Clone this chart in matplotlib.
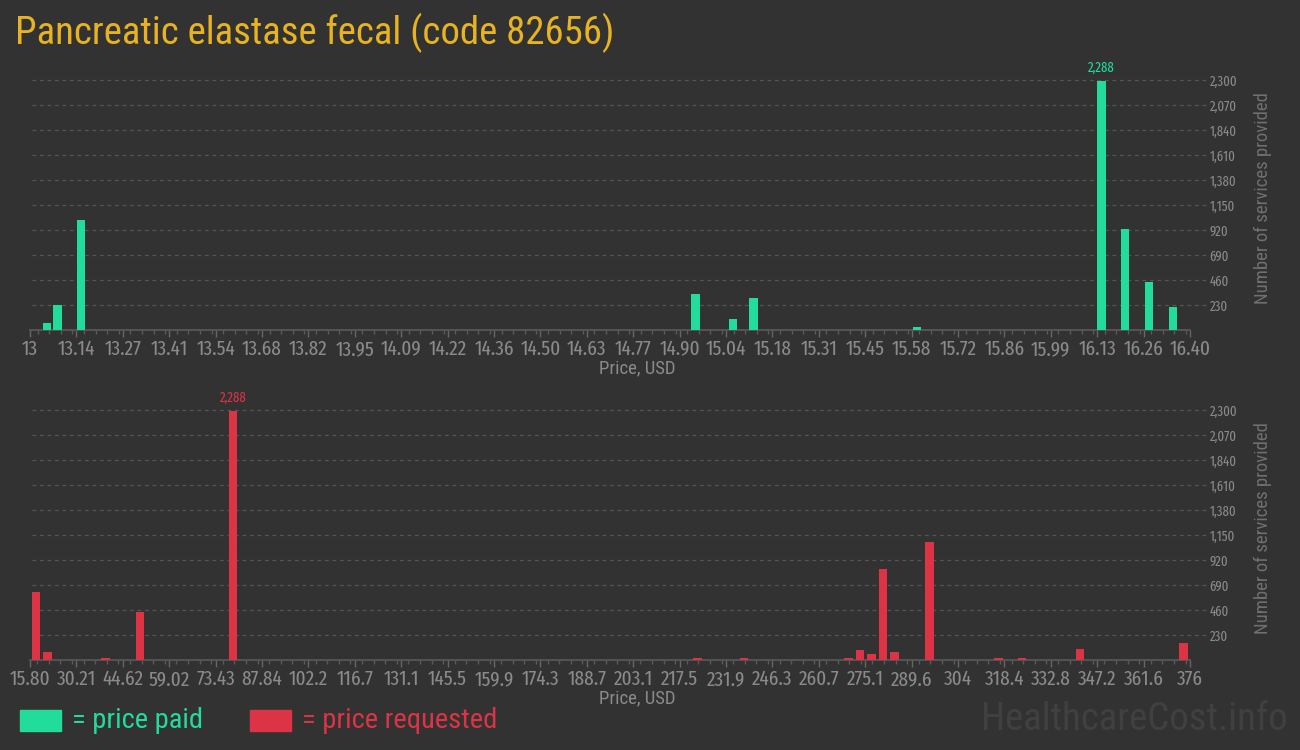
import numpy as np
import matplotlib
matplotlib.use('Agg')
from matplotlib import pyplot as plt
from matplotlib import font_manager
from matplotlib.ticker import FixedLocator, MultipleLocator
from matplotlib.patches import Rectangle

#####

paid_price = [13.05, 13.08, 13.15, 14.95, 15.06, 15.12, 15.60, 16.14, 16.21, 16.28, 16.35]
paid_count = [65, 230, 1012, 331, 100, 294, 28, 2288, 925, 444, 212]

req_price = [17.6, 21.2, 39.2, 50.0, 78.8, 223.1, 237.5, 269.9, 273.5, 277.1,
             280.7, 284.3, 295.1, 316.6, 323.8, 341.8, 374.0]
req_count = [626, 74, 15, 442, 2288, 15, 15, 15, 92, 55,
             837, 74, 1086, 22, 22, 100, 156]

paid_ticks = ['13', '13.14', '13.27', '13.41', '13.54', '13.68', '13.82', '13.95', '14.09',
              '14.22', '14.36', '14.50', '14.63', '14.77', '14.90', '15.04', '15.18', '15.31',
              '15.45', '15.58', '15.72', '15.86', '15.99', '16.13', '16.26', '16.40']
req_ticks = ['15.80', '30.21', '44.62', '59.02', '73.43', '87.84', '102.2', '116.7', '131.1',
             '145.5', '159.9', '174.3', '188.7', '203.1', '217.5', '231.9', '246.3', '260.7',
             '275.1', '289.6', '304', '318.4', '332.8', '347.2', '361.6', '376']
y_ticks = [230, 460, 690, 920, 1150, 1380, 1610, 1840, 2070, 2300]
y_ticklabels = ['230', '460', '690', '920', '1,150', '1,380', '1,610', '1,840', '2,070', '2,300']

#####

bg = '#323232'
green = '#22dc9b'
red = '#dc3445'
grey = '#8a8a8a'
gridc = '#555555'

avail = {f.name for f in font_manager.fontManager.ttflist}


def pick(*names):
    for n in names:
        if n in avail:
            return n
    return 'DejaVu Sans'


cond = pick('Roboto Condensed', 'Barlow Semi Condensed', 'Fira Sans Condensed', 'Roboto')
tickf = pick('Fira Sans Extra Condensed', 'Roboto Condensed', 'Roboto')

fig = plt.figure(figsize=(13, 7.5), dpi=100)
fig.patch.set_facecolor(bg)


def draw_panel(rect, prices, counts, ticklabels, color):
    ax = fig.add_axes(rect)
    ax.set_facecolor(bg)
    lo = float(ticklabels[0])
    hi = float(ticklabels[-1])
    step = (hi - lo) / (len(ticklabels) - 1)
    barw = step / 4 * 0.73

    ax.bar(prices, counts, width=barw, color=color, zorder=3)
    ax.set_xlim(lo, hi)
    ax.set_ylim(0, 2420)

    for s in ['top', 'right', 'left']:
        ax.spines[s].set_visible(False)
    ax.spines['bottom'].set_color('#5a5a5a')
    ax.spines['bottom'].set_linewidth(1.2)

    ax.xaxis.set_major_locator(FixedLocator([lo + i * step for i in range(len(ticklabels))]))
    ax.set_xticklabels(ticklabels)
    ax.xaxis.set_minor_locator(MultipleLocator(step / 4))
    ax.tick_params(axis='x', which='major', length=5, width=1, color='#666666',
                   labelcolor=grey, labelsize=15, pad=2)
    ax.tick_params(axis='x', which='minor', length=3, width=1, color='#5a5a5a')
    for t in ax.get_xticklabels():
        t.set_fontfamily(tickf)

    ax.yaxis.tick_right()
    ax.set_yticks(y_ticks)
    ax.set_yticklabels(y_ticklabels)
    ax.tick_params(axis='y', length=0, pad=14, labelcolor=grey, labelsize=10)
    for t in ax.get_yticklabels():
        t.set_fontfamily(tickf)

    trans = ax.get_yaxis_transform()
    for yv in y_ticks:
        ax.plot([0.002, 1.0138], [yv, yv], transform=trans, color=gridc, lw=0.9,
                linestyle=(0, (3, 3)), clip_on=False, zorder=1)

    imax = int(np.argmax(counts))
    ax.text(prices[imax], counts[imax] + 60, '{:,}'.format(counts[imax]), color=color,
            fontsize=10, ha='center', va='bottom', family=tickf)
    ax.text(1.0625, 0.5, 'Number of services provided', transform=ax.transAxes, rotation=90,
            ha='center', va='center', color='#707070', fontsize=13.5, family=cond)
    return ax


ax1 = draw_panel([30 / 1300, 420 / 750, 1160 / 1300, 263 / 750],
                 paid_price, paid_count, paid_ticks, green)
ax2 = draw_panel([30 / 1300, 90 / 750, 1160 / 1300, 263 / 750],
                 req_price, req_count, req_ticks, red)

fig.text(637 / 1300, 1 - 368 / 750, 'Price, USD', color=grey, fontsize=13.5, ha='center',
         va='center', family=cond)
fig.text(637 / 1300, 1 - 698 / 750, 'Price, USD', color=grey, fontsize=13.5, ha='center',
         va='center', family=cond)

fig.text(15 / 1300, 1 - 33 / 750, 'Pancreatic elastase fecal (code 82656)', color='#e8b320',
         fontsize=28, ha='left', va='center', family=cond)

# legend
fig.patches.append(Rectangle((20 / 1300, 1 - 731 / 750), 41 / 1300, 21 / 750,
                             transform=fig.transFigure, color=green))
fig.text(72 / 1300, 1 - 720 / 750, '= price paid', color=green, fontsize=20.5,
         ha='left', va='center', family=cond)
fig.patches.append(Rectangle((250 / 1300, 1 - 731 / 750), 41 / 1300, 21 / 750,
                             transform=fig.transFigure, color=red))
fig.text(302 / 1300, 1 - 720 / 750, '= price requested', color=red, fontsize=20.5,
         ha='left', va='center', family=cond)

fig.text(1288 / 1300, 1 - 720 / 750, 'HealthcareCost.info', color='#404040', fontsize=28,
         ha='right', va='center', family=cond)

fig.savefig('out.png', dpi=100, facecolor=bg)
